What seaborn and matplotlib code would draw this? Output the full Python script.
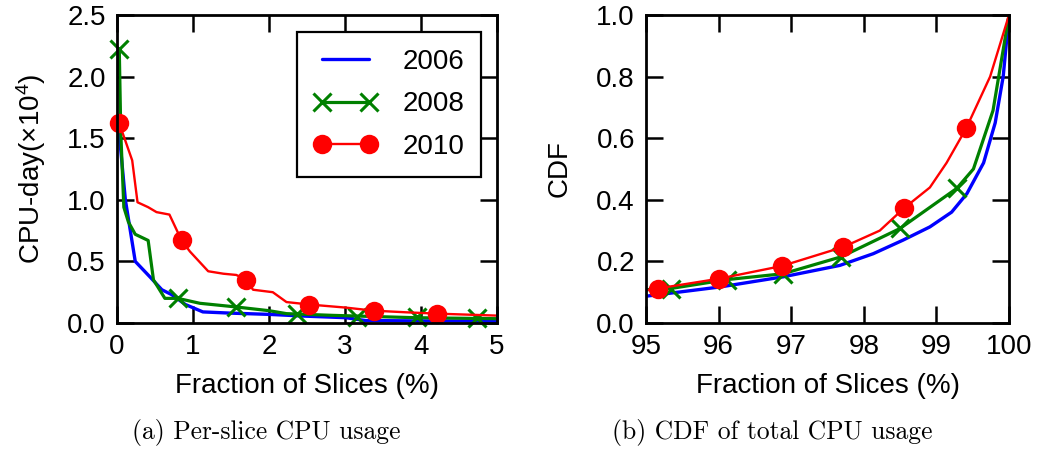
import numpy as np
import pandas as pd
import seaborn as sns
import matplotlib
matplotlib.use("Agg")
import matplotlib.pyplot as plt
from matplotlib.lines import Line2D

# ---------------- data: (a) per-slice CPU usage ----------------
a2006_x = [0.0, 0.05, 0.11, 0.24, 0.44, 0.59, 0.72, 0.90, 1.13, 1.5, 2.0, 2.5, 3.01, 3.27, 4.0, 5.0]
a2006_y = [1.65, 1.40, 1.00, 0.50, 0.37, 0.27, 0.23, 0.15, 0.09, 0.08, 0.07, 0.055, 0.043, 0.02, 0.017, 0.015]

a2008_x = [0.03, 0.05, 0.09, 0.15, 0.24, 0.41, 0.48, 0.63, 0.80, 1.09, 1.57, 2.0, 2.23, 2.84, 3.93, 5.0]
a2008_y = [2.22, 1.54, 0.94, 0.82, 0.72, 0.67, 0.35, 0.20, 0.20, 0.16, 0.13, 0.10, 0.076, 0.062, 0.043, 0.035]
a2008_mx = [0.03, 0.80, 1.57, 2.37, 3.16, 3.95, 4.74]
a2008_my = [2.22, 0.20, 0.13, 0.07, 0.05, 0.045, 0.04]

a2010_x = [0.03, 0.20, 0.27, 0.41, 0.52, 0.69, 0.85, 0.96, 1.20, 1.40, 1.57, 1.70, 1.79, 2.05, 2.23,
           2.53, 3.01, 3.38, 3.80, 4.21, 5.0]
a2010_y = [1.62, 1.32, 0.98, 0.94, 0.90, 0.88, 0.67, 0.58, 0.42, 0.40, 0.39, 0.35, 0.27, 0.25, 0.17,
           0.15, 0.125, 0.10, 0.087, 0.076, 0.06]
a2010_mx = [0.03, 0.85, 1.70, 2.53, 3.38, 4.21]
a2010_my = [1.62, 0.67, 0.35, 0.15, 0.10, 0.076]

# ---------------- data: (b) CDF of total CPU usage ----------------
b2006_x = [95.0, 96.02, 96.89, 97.67, 98.13, 98.54, 98.91, 99.21, 99.42, 99.65, 99.81, 99.92, 100.0]
b2006_y = [0.087, 0.117, 0.150, 0.187, 0.225, 0.269, 0.312, 0.360, 0.420, 0.520, 0.650, 0.800, 1.0]

b2008_x = [95.0, 95.34, 96.12, 96.89, 97.69, 98.50, 99.28, 99.51, 99.78, 100.0]
b2008_y = [0.108, 0.112, 0.141, 0.160, 0.215, 0.307, 0.437, 0.500, 0.690, 1.0]
b2008_mx = [95.34, 96.12, 96.89, 97.69, 98.50, 99.28]
b2008_my = [0.112, 0.141, 0.160, 0.215, 0.307, 0.437]

b2010_x = [95.0, 95.16, 96.01, 96.87, 97.72, 98.22, 98.55, 98.91, 99.14, 99.41, 99.74, 100.0]
b2010_y = [0.106, 0.112, 0.144, 0.185, 0.247, 0.300, 0.372, 0.440, 0.520, 0.632, 0.800, 1.0]
b2010_mx = [95.16, 96.01, 96.87, 97.72, 98.55, 99.41]
b2010_my = [0.112, 0.144, 0.185, 0.247, 0.372, 0.632]

labels = ["2006", "2008", "2010"]
xticks_a = [0, 1, 2, 3, 4, 5]
yticks_a = [0.0, 0.5, 1.0, 1.5, 2.0, 2.5]
xticks_b = [95, 96, 97, 98, 99, 100]
yticks_b = [0.0, 0.2, 0.4, 0.6, 0.8, 1.0]

BLUE, GREEN, RED = "#0000ff", "#008000", "#ff0000"

sns.set_theme(style="ticks")
plt.rcParams["font.family"] = ["Liberation Sans", "DejaVu Sans"]
plt.rcParams["mathtext.fontset"] = "custom"
plt.rcParams["mathtext.rm"] = "Liberation Sans"
plt.rcParams["mathtext.it"] = "Liberation Sans:italic"

fig = plt.figure(figsize=(10.41, 4.63), dpi=100)
axa = fig.add_axes([117 / 1041, 1 - 323 / 463, 380 / 1041, 308 / 463])
axb = fig.add_axes([646 / 1041, 1 - 323 / 463, 363 / 1041, 308 / 463])

FS = 20
LW_B, LW_G, LW_R = 2.4, 2.3, 1.7


def line(ax, xs, ys, color, lw):
    df = pd.DataFrame({"x": xs, "y": ys})
    sns.lineplot(data=df, x="x", y="y", ax=ax, color=color, lw=lw, sort=False,
                 estimator=None, legend=False)


def marks(ax, xs, ys, color, marker, ms, mew):
    df = pd.DataFrame({"x": xs, "y": ys})
    sns.lineplot(data=df, x="x", y="y", ax=ax, color=color, linestyle="", marker=marker,
                 markersize=ms, markeredgewidth=mew, markeredgecolor=color,
                 markerfacecolor=color, sort=False, estimator=None, legend=False,
                 clip_on=False)


# (a)
line(axa, a2006_x, a2006_y, BLUE, LW_B)
line(axa, a2008_x, a2008_y, GREEN, LW_G)
marks(axa, a2008_mx, a2008_my, GREEN, "x", 13, 2.2)
line(axa, a2010_x, a2010_y, RED, LW_R)
marks(axa, a2010_mx, a2010_my, RED, "o", 14, 0)

# (b)
line(axb, b2006_x, b2006_y, BLUE, LW_B)
line(axb, b2008_x, b2008_y, GREEN, LW_G)
marks(axb, b2008_mx, b2008_my, GREEN, "x", 13, 2.2)
line(axb, b2010_x, b2010_y, RED, LW_R)
marks(axb, b2010_mx, b2010_my, RED, "o", 14, 0)

for ax, xt, yt in [(axa, xticks_a, yticks_a), (axb, xticks_b, yticks_b)]:
    ax.set_xlim(xt[0], xt[-1])
    ax.set_ylim(yt[0], yt[-1])
    ax.set_xticks(xt)
    ax.set_yticks(yt)
    ax.set_xticklabels([str(v) for v in xt])
    ax.set_yticklabels([f"{v:.1f}" for v in yt])
    ax.tick_params(direction="in", length=12, width=1.8, labelsize=FS, colors="black",
                   top=True, right=True, pad=8)
    for s in ax.spines.values():
        s.set_linewidth(2.0)
        s.set_color("black")
        s.set_zorder(5)
    ax.set_xlabel("Fraction of Slices (%)", fontsize=FS, labelpad=9, color="black")

axa.set_ylabel(r"CPU-day($\times$10$^4$)", fontsize=FS, labelpad=14, color="black")
axb.set_ylabel("CDF", fontsize=FS, labelpad=17, color="black")

handles = [
    Line2D([], [], color=BLUE, lw=LW_B),
    Line2D([], [], color=GREEN, lw=LW_G, marker="x", ms=13, mew=2.2),
    Line2D([], [], color=RED, lw=LW_R, marker="o", ms=14, mew=0),
]
leg = axa.legend(handles, labels, loc="upper right", bbox_to_anchor=(0.958, 0.945),
                 fontsize=FS, numpoints=2, handlelength=2.3, handletextpad=0.9,
                 labelspacing=0.6, borderpad=0.6, borderaxespad=0, fancybox=False,
                 framealpha=1, edgecolor="black", markerfirst=True)
leg.get_frame().set_linewidth(1.6)
for t in leg.get_texts():
    t.set_color("black")

fig.text(266 / 1041, 1 - 432 / 463, "(a) Per-slice CPU usage", family="cmr10",
         fontsize=18.4, ha="center", va="center", color="black")
fig.text(772 / 1041, 1 - 432 / 463, "(b) CDF of total CPU usage", family="cmr10",
         fontsize=18.4, ha="center", va="center", color="black")

fig.savefig("out.png", dpi=100, facecolor="white")
